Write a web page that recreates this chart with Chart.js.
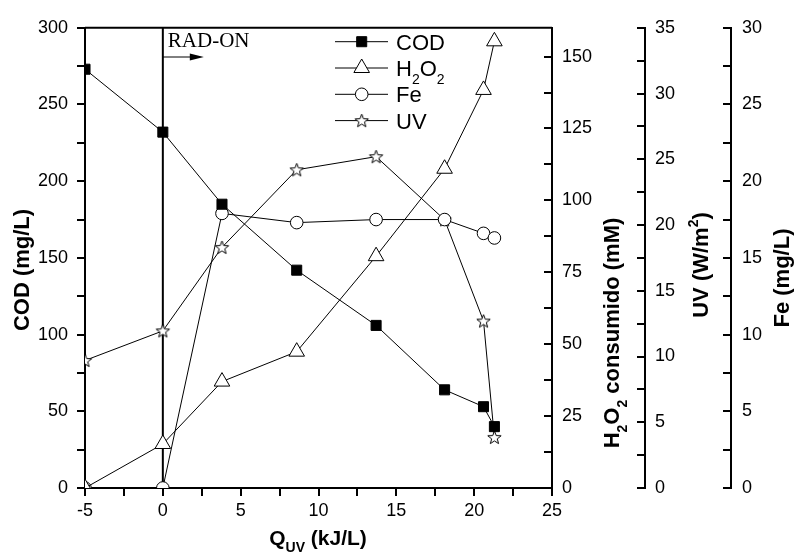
<!DOCTYPE html>
<html lang="es">
<head>
<meta charset="UTF-8">
<title>COD, H2O2, Fe y UV frente a Q_UV</title>
<script src="https://cdn.jsdelivr.net/npm/chart.js"></script>
<style>
  body { margin: 0; background: #fff; }
  #grafico { display: block; }
</style>
</head>
<body>
<canvas id="grafico" width="794" height="554"></canvas>
<script>
// datos
const qUV  = [-5, 0, 3.8, 8.6, 13.7, 18.1, 20.6, 21.3];
const cod  = [273, 232, 185, 142, 106, 64, 53, 40];
const h2o2 = [0, 15.3, 37, 47.4, 80.6, 111, 138.4, 155.3];
const fe   = [0, 0, 17.9, 17.3, 17.5, 17.5, 16.6, 16.3];
const uv   = [9.7, 11.95, 18.3, 24.2, 25.2, 20.4, 12.7, 3.85];

// ejes: [min, max, paso mayor, paso menor]
const xRange    = [-5, 25, 5, 2.5];
const codRange  = [0, 300, 50, 25];
const h2o2Range = [0, 160, 25, 12.5];
const uvRange   = [0, 35, 5, 2.5];
const feRange   = [0, 30, 5, 2.5];

const radOnAt = 0;
const FONT = "'Liberation Sans', Arial, sans-serif";

// estrella de 5 puntas hueca (Chart.js no la tiene)
function makeStar(r) {
  const c = document.createElement('canvas');
  const size = Math.ceil(r * 2 + 3);
  c.width = size; c.height = size;
  const g = c.getContext('2d');
  const cx = size / 2, cy = size / 2 + 0.5;
  g.beginPath();
  for (let i = 0; i < 10; i++) {
    const rad = i % 2 === 0 ? r : r * 0.42;
    const ang = -Math.PI / 2 + i * Math.PI / 5;
    const px = cx + rad * Math.cos(ang), py = cy + rad * Math.sin(ang);
    i === 0 ? g.moveTo(px, py) : g.lineTo(px, py);
  }
  g.closePath();
  g.fillStyle = '#fff'; g.fill();
  g.strokeStyle = '#000'; g.lineWidth = 1; g.stroke();
  return c;
}
const star = makeStar(7);

function pts(ys) { return qUV.map((x, i) => ({ x: x, y: ys[i] })); }

// texto con sub/superindices: H_2O_2, W/m^2, Q_{UV}
function parseRich(s) {
  const parts = [];
  let i = 0;
  while (i < s.length) {
    const c = s[i];
    if (c === '_' || c === '^') {
      let t;
      if (s[i + 1] === '{') { const j = s.indexOf('}', i); t = s.slice(i + 2, j); i = j + 1; }
      else { t = s[i + 1]; i += 2; }
      parts.push({ t: t, mode: c });
    } else {
      let j = i;
      while (j < s.length && s[j] !== '_' && s[j] !== '^') j++;
      parts.push({ t: s.slice(i, j), mode: '' });
      i = j;
    }
  }
  return parts;
}
function drawRich(ctx, s, x, y, size, weight, align) {
  const parts = parseRich(s);
  const small = Math.round(size * 0.65);
  const fontFor = p => weight + ' ' + (p.mode ? small : size) + 'px ' + FONT;
  let w = 0;
  parts.forEach(p => { ctx.font = fontFor(p); p.w = ctx.measureText(p.t).width; w += p.w; });
  let cx = align === 'center' ? x - w / 2 : x;
  ctx.textAlign = 'left';
  ctx.textBaseline = 'alphabetic';
  parts.forEach(p => {
    ctx.font = fontFor(p);
    const dy = p.mode === '_' ? size * 0.35 : p.mode === '^' ? -size * 0.45 : 0;
    ctx.fillText(p.t, cx, y + dy);
    cx += p.w;
  });
}
function drawRotated(ctx, s, cx, cy, size) {
  ctx.save();
  ctx.translate(cx, cy);
  ctx.rotate(-Math.PI / 2);
  drawRich(ctx, s, 0, size * 0.36, size, 'bold', 'center');
  ctx.restore();
}

const legendLabels = ['COD', 'H_2O_2', 'Fe', 'UV'];

const decor = {
  id: 'decor',
  beforeDatasetsDraw(chart) {
    const ctx = chart.ctx, a = chart.chartArea;
    const px = chart.scales.x.getPixelForValue(radOnAt);
    ctx.save();
    ctx.strokeStyle = '#000';
    ctx.lineWidth = 2;
    ctx.beginPath(); ctx.moveTo(px, a.top); ctx.lineTo(px, a.bottom); ctx.stroke();
    // RAD-ON y flecha
    ctx.fillStyle = '#000';
    ctx.font = "21px 'Liberation Serif', 'Times New Roman', serif";
    ctx.textAlign = 'left'; ctx.textBaseline = 'alphabetic';
    ctx.fillText('RAD-ON', px + 5, 47);
    ctx.lineWidth = 1;
    ctx.beginPath(); ctx.moveTo(px, 57); ctx.lineTo(px + 30, 57); ctx.stroke();
    ctx.beginPath(); ctx.moveTo(px + 41, 57); ctx.lineTo(px + 27, 53.5); ctx.lineTo(px + 27, 60.5); ctx.closePath(); ctx.fill();
    ctx.restore();
  },
  afterDraw(chart) {
    const ctx = chart.ctx, a = chart.chartArea, s = chart.scales;
    ctx.save();
    ctx.strokeStyle = '#000'; ctx.fillStyle = '#000';
    ctx.lineWidth = 2;
    ctx.beginPath(); ctx.moveTo(a.left, a.top); ctx.lineTo(a.right, a.top); ctx.stroke();

    // marcas de los ejes
    ctx.lineWidth = 2;
    const tl = 8;
    const xs = s.x;
    for (let v = xRange[0]; v <= xRange[1] + 1e-9; v += xRange[3]) {
      const p = Math.round(xs.getPixelForValue(v));
      ctx.beginPath(); ctx.moveTo(p, xs.top); ctx.lineTo(p, xs.top + tl); ctx.stroke();
    }
    [['y', codRange], ['yH', h2o2Range], ['yUV', uvRange], ['yFe', feRange]].forEach(([id, r]) => {
      const sc = s[id];
      const edge = sc.position === 'left' ? sc.right : sc.left;
      for (let v = r[0]; v <= r[1] + 1e-9; v += r[3]) {
        const p = Math.round(sc.getPixelForValue(v));
        ctx.beginPath(); ctx.moveTo(edge, p); ctx.lineTo(edge - tl, p); ctx.stroke();
      }
    });

    // titulos de ejes
    drawRich(ctx, 'Q_{UV} (kJ/L)', 318, 545, 21, 'bold', 'center');
    drawRotated(ctx, 'COD (mg/L)', 21, 270, 22);
    drawRotated(ctx, 'H_2O_2 consumido (mM)', 611, 333, 22);
    drawRotated(ctx, 'UV (W/m^2)', 700, 265, 22);
    drawRotated(ctx, 'Fe (mg/L)', 781, 278, 22);

    // leyenda
    chart.data.datasets.forEach((ds, i) => {
      const y = 41.7 + i * 26.3;
      ctx.strokeStyle = '#000'; ctx.lineWidth = 1;
      ctx.beginPath(); ctx.moveTo(335, y); ctx.lineTo(388, y); ctx.stroke();
      ctx.fillStyle = ds.pointBackgroundColor;
      Chart.helpers.drawPoint(ctx, { pointStyle: ds.pointStyle, radius: ds.pointRadius, rotation: 0, borderWidth: 1 }, 361.7, y);
      ctx.fillStyle = '#000';
      drawRich(ctx, legendLabels[i], 396, y + 8, 22, 'normal', 'left');
    });
    ctx.restore();
  }
};

const tickFont = { family: FONT, size: 18 };

function yAxis(range, pos, width, pad) {
  return {
    type: 'linear', position: pos, min: range[0], max: range[1],
    grid: { display: false, drawTicks: false },
    border: { display: true, color: '#000', width: 2 },
    ticks: { stepSize: range[2], includeBounds: false, color: '#000', font: tickFont, padding: pad },
    afterFit(sc) { sc.width = width; }
  };
}

const ds = (label, data, axis, style, radius, fill) => ({
  label: label, data: pts(data), yAxisID: axis,
  borderColor: '#000', borderWidth: 1,
  pointStyle: style, pointRadius: radius, pointHoverRadius: radius,
  pointBackgroundColor: fill, pointBorderColor: '#000', pointBorderWidth: 1,
  clip: 0
});

new Chart(document.getElementById('grafico'), {
  type: 'line',
  data: {
    datasets: [
      ds('COD', cod, 'y', 'rect', 7.1, '#000'),
      ds('H2O2', h2o2, 'yH', 'triangle', 9, '#fff'),
      ds('Fe', fe, 'yFe', 'circle', 6.3, '#fff'),
      ds('UV', uv, 'yUV', star, 7, '#fff')
    ]
  },
  options: {
    responsive: false,
    animation: false,
    layout: { padding: { top: 22, left: 0, right: 0, bottom: 0 } },
    plugins: { legend: { display: false }, tooltip: { enabled: false } },
    scales: {
      x: {
        type: 'linear', min: xRange[0], max: xRange[1],
        grid: { display: false, drawTicks: false },
        border: { display: true, color: '#000', width: 2 },
        ticks: { stepSize: xRange[2], color: '#000', font: tickFont, padding: 12, maxRotation: 0 },
        afterFit(sc) { sc.height = 66; }
      },
      y: yAxis(codRange, 'left', 85, 17),
      yH: yAxis(h2o2Range, 'right', 93, 10),
      yUV: yAxis(uvRange, 'right', 86, 10),
      yFe: yAxis(feRange, 'right', 63, 11)
    }
  },
  plugins: [decor]
});
</script>
</body>
</html>
